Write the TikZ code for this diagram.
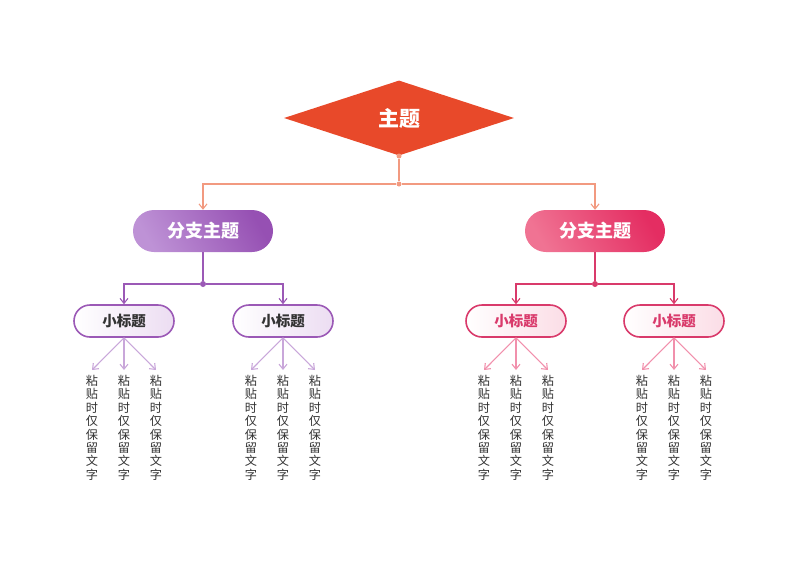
\documentclass[tikz,border=0pt]{standalone}
\usepackage{fontspec}
\setmainfont{Noto Sans CJK SC}
\usetikzlibrary{shapes.geometric,arrows.meta,positioning}
\definecolor{topicred}{HTML}{E8492A}
\definecolor{linesalmon}{HTML}{F29A80}
\definecolor{purpA}{HTML}{BE92D6}
\definecolor{purpB}{HTML}{9650B3}
\definecolor{purpline}{HTML}{9B59B6}
\definecolor{purpsoft}{HTML}{C9A7DA}
\definecolor{purpfill}{HTML}{ECDDF2}
\definecolor{pinkA}{HTML}{F07393}
\definecolor{pinkB}{HTML}{E42D62}
\definecolor{pinkline}{HTML}{D93A6B}
\definecolor{pinksoft}{HTML}{F190AC}
\definecolor{pinkfill}{HTML}{FBDDE6}
\definecolor{leafgray}{HTML}{333333}
\newcommand{\leaftext}{粘\\贴\\时\\仅\\保\\留\\文\\字}
\begin{document}
\begin{tikzpicture}[x=1pt, y=-1pt, >={Straight Barb[length=5pt,width=8pt]},
  topic/.style={diamond, fill=topicred, text=white, inner sep=0pt, minimum width=230pt, minimum height=75pt, aspect=3.07, font=\fontsize{21}{24}\selectfont\bfseries},
  branch/.style={rounded corners=21pt, minimum width=140pt, minimum height=42pt, text=white, font=\fontsize{18}{22}\selectfont\bfseries},
  sub/.style={draw, line width=1.6pt, rounded corners=16pt, minimum width=100pt, minimum height=32pt, font=\fontsize{14.5}{17}\selectfont\bfseries},
  leaf/.style={anchor=north, align=center, inner xsep=2pt, inner ysep=5pt, text=leafgray, font=\fontsize{12.2}{13.4}\selectfont},
  conn/.style={line width=1.1pt},
  dot/.style={circle, inner sep=0pt, minimum size=#1},
  dot/.default=5pt]
\useasboundingbox (0,0) rectangle (800,566);

% main topic
\node[topic] (main) at (399,118) {主题};
\node[dot, fill=linesalmon] (mtop) at (399,156) {};
\node[dot, fill=linesalmon] (mj) at (399,184) {};

% branches
\node[branch, left color=purpA, right color=purpB, shading angle=120] (b1) at (203,231) {分支主题};
\node[branch, left color=pinkA, right color=pinkB, shading angle=120] (b2) at (595,231) {分支主题};
\node[dot=6pt, fill=purpline] (j1) at (203,284) {};
\node[dot=6pt, fill=pinkline] (j2) at (595,284) {};

% sub topics
\node[sub, draw=purpline, left color=white, right color=purpfill, text=leafgray] (s1) at (124,321) {小标题};
\node[sub, draw=purpline, left color=white, right color=purpfill, text=leafgray] (s2) at (283,321) {小标题};
\node[sub, draw=pinkline, left color=white, right color=pinkfill, text=pinkline] (s3) at (516,321) {小标题};
\node[sub, draw=pinkline, left color=white, right color=pinkfill, text=pinkline] (s4) at (674,321) {小标题};

% connectors
\draw[conn, linesalmon] (mtop) -- (mj);
\draw[->, conn, linesalmon] (mj) -| (b1.north);
\draw[->, conn, linesalmon] (mj) -| (b2.north);
\draw[conn, purpline] (b1) -- (j1);
\draw[->, conn, purpline] (j1) -| (s1.north);
\draw[->, conn, purpline] (j1) -| (s2.north);
\draw[conn, pinkline] (b2) -- (j2);
\draw[->, conn, pinkline] (j2) -| (s3.north);
\draw[->, conn, pinkline] (j2) -| (s4.north);

% leaves
\foreach \s/\cx/\col in {s1/124/purpsoft, s2/283/purpsoft, s3/516/pinksoft, s4/674/pinksoft} {
  \foreach \i/\dx in {1/-32, 2/0, 3/32} {
    \node[leaf] (\s l\i) at (\cx+\dx,370) {\leaftext};
    \draw[->, conn, \col] (\s.south) -- (\s l\i.north);
  }
}
\end{tikzpicture}
\end{document}
